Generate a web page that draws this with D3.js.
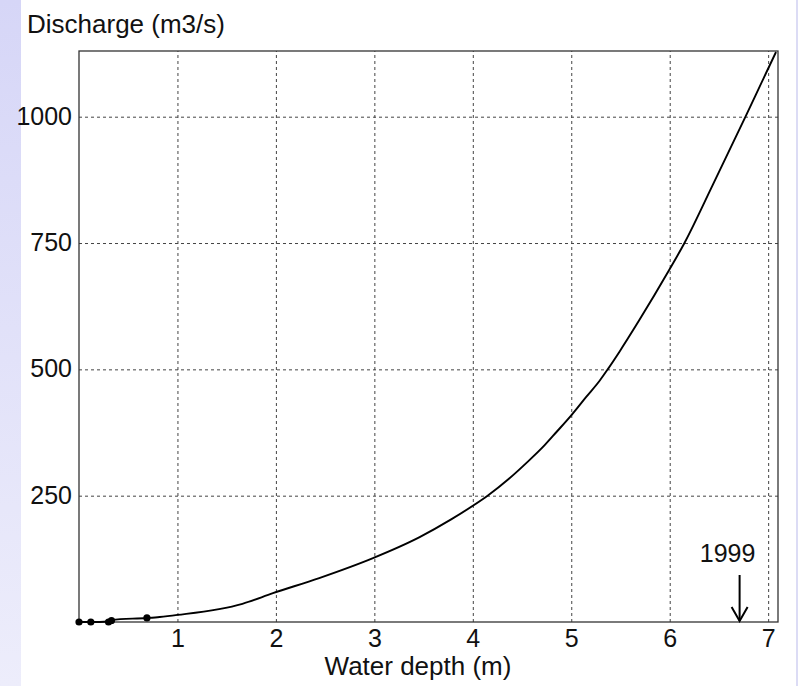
<!DOCTYPE html>
<html>
<head>
<meta charset="utf-8">
<script src="https://cdn.jsdelivr.net/npm/d3@7"></script>
<style>
  body { margin: 0; background: #fff; }
  svg { display: block; font-family: "Liberation Sans", Arial, sans-serif; }
  .grid line { stroke: #444; stroke-width: 1; stroke-dasharray: 3,3; }
  .grid path { display: none; }
  .grid text { fill: #111; }
</style>
</head>
<body>
<svg id="graph" width="798" height="686"></svg>
<script>
//Rating curve: water depth (m) vs discharge (m3/s)
let depth     = [0, 0.12, 0.30, 0.33, 0.69, 0.82, 1.0, 1.66, 1.97, 2.44, 2.98, 3.46, 3.78, 4.0, 4.15, 4.37, 4.54, 4.73, 4.85, 5.0, 5.15, 5.29, 5.37, 5.49, 5.69, 5.99, 6.15, 6.44, 6.77, 6.98, 7.08];
let discharge = [0, 0, 1, 4, 8, 10, 14, 36, 57, 87, 126, 168, 203, 230, 250, 284, 314, 350, 376, 409, 445, 478, 500, 535, 597, 695, 750, 866, 1000, 1087, 1128];
//Measured points (dots)
let obsDepth     = [0, 0.12, 0.30, 0.33, 0.69];
let obsDischarge = [0, 0, 0, 3, 8];
//Tick values
let xTicks = [1, 2, 3, 4, 5, 6, 7];
let yTicks = [250, 500, 750, 1000];
//Annotation
let noteDepth = 6.71;
let noteLabel = "1999";

let margin = { top: 51, right: 20, bottom: 64, left: 79 };
let svg = d3.select("#graph");
let W = 798, H = 686;
let width = 778 - margin.left;
let height = 622 - margin.top;

//left lavender band
let defs = svg.append("defs");
let grad = defs.append("linearGradient").attr("id", "band").attr("x1", 0).attr("y1", 0).attr("x2", 0).attr("y2", 1);
grad.append("stop").attr("offset", "0%").attr("stop-color", "#d6d6f7");
grad.append("stop").attr("offset", "100%").attr("stop-color", "#ededfb");
svg.append("rect").attr("x", 0).attr("y", 0).attr("width", 21).attr("height", H).attr("fill", "url(#band)");
svg.append("rect").attr("x", 796).attr("y", 0).attr("width", 2).attr("height", H).attr("fill", "#dcdcf5");

let x = d3.scaleLinear().domain([0, 7.1]).range([0, width]);
let y = d3.scaleLinear().domain([0, 1130]).range([height, 0]);

let g = svg.append("g").attr("transform", "translate(" + margin.left + "," + margin.top + ")");

//grid + tick labels
g.append("g").attr("class", "grid")
  .attr("transform", "translate(0," + height + ")")
  .call(d3.axisBottom(x).tickValues(xTicks).tickSize(-height).tickPadding(7).tickFormat(d3.format("d")))
  .selectAll("text").attr("font-size", 25).attr("dy", "0.7em");

g.append("g").attr("class", "grid")
  .call(d3.axisLeft(y).tickValues(yTicks).tickSize(-width).tickPadding(7).tickFormat(d3.format("d")))
  .selectAll("text").attr("font-size", 25).attr("dy", "0.3em");

//frame
g.append("rect").attr("x", 0).attr("y", 0).attr("width", width).attr("height", height)
  .attr("fill", "none").attr("stroke", "#333").attr("stroke-width", 1.3);

//curve
let pts = depth.map(function (d, i) { return [d, discharge[i]]; });
let line = d3.line().curve(d3.curveMonotoneX)
  .x(function (d) { return x(d[0]); }).y(function (d) { return y(d[1]); });
g.append("path").datum(pts).attr("d", line)
  .attr("fill", "none").attr("stroke", "#000").attr("stroke-width", 1.9);

//observed dots
g.selectAll(".dot").data(obsDepth).enter().append("circle")
  .attr("class", "dot")
  .attr("cx", function (d) { return x(d); })
  .attr("cy", function (d, i) { return y(obsDischarge[i]); })
  .attr("r", 3.6).attr("fill", "#000");

//1999 arrow
let ax = x(noteDepth);
g.append("line").attr("x1", ax).attr("x2", ax).attr("y1", height - 47).attr("y2", height - 1)
  .attr("stroke", "#000").attr("stroke-width", 2);
g.append("path")
  .attr("d", "M" + (ax - 8) + "," + (height - 15) + "L" + ax + "," + (height - 1) + "L" + (ax + 8) + "," + (height - 15))
  .attr("fill", "none").attr("stroke", "#000").attr("stroke-width", 2);
g.append("text").attr("x", ax - 12).attr("y", height - 60).attr("text-anchor", "middle")
  .attr("font-size", 25).attr("fill", "#111").text(noteLabel);

//axis names
svg.append("text").attr("x", 27).attr("y", 33).attr("font-size", 26).attr("fill", "#111").text("Discharge (m3/s)");
svg.append("text").attr("x", 418).attr("y", 675).attr("text-anchor", "middle")
  .attr("font-size", 26).attr("fill", "#111").text("Water depth (m)");
</script>
</body>
</html>
